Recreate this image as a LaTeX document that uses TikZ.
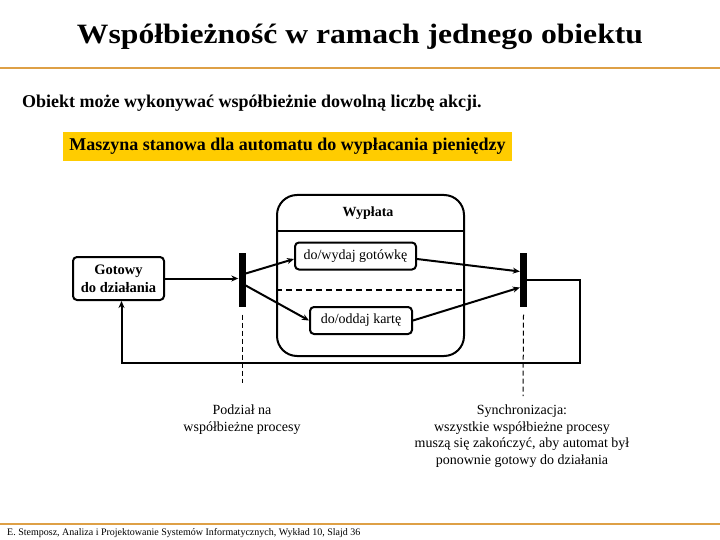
\documentclass[tikz,border=0pt]{standalone}
\usepackage{fontspec}
\usepackage{graphicx}
\setmainfont{Liberation Serif}
\usetikzlibrary{arrows.meta, positioning}
\definecolor{rulecol}{RGB}{222,160,70}
\definecolor{bannercol}{RGB}{255,204,0}
\tikzset{>={Stealth[length=7pt,width=6pt]}, % filled arrow heads
flow/.style={->, line width=2pt}, % transitions
statebox/.style={draw, line width=2pt, rounded corners=4pt, inner sep=0pt}, % simple states
bar/.style={fill=black, minimum width=7pt, minimum height=54pt, inner sep=0pt}, % fork and join
notetext/.style={align=center, font=\fontsize{14}{16.5}\selectfont}, % comments under the bars
noteline/.style={line width=1pt, dash pattern=on 5pt off 3pt},
}

\begin{document}
\begin{tikzpicture}[x=1pt,y=-1pt]
  \useasboundingbox (0,0) rectangle (720,540);

  % heading
  \node (title) at (360,37) {\scalebox{1.13}[1]{\fontsize{28}{32}\selectfont\bfseries Współbieżność w ramach jednego obiektu}};
  \draw[rulecol, line width=1.2pt] (0,68) -- (720,68);
  \node[anchor=west, inner sep=0pt] (intro) at (22,103) {\fontsize{18}{20}\selectfont\bfseries Obiekt może wykonywać współbieżnie dowolną liczbę akcji.};
  \node[fill=bannercol, minimum width=449pt, minimum height=29pt, inner sep=0pt] (banner) at (287.5,146.5) {\fontsize{18}{20}\selectfont\bfseries Maszyna stanowa dla automatu do wypłacania pieniędzy};

  % composite state
  \node[draw, line width=2pt, rounded corners=20pt, minimum width=187pt, minimum height=161pt] (wyplata) at (370.5,275.5) {};
  \node (wyplatatitle) at (368,213) {\fontsize{14}{16}\selectfont\bfseries Wypłata};
  \draw[line width=2pt] (wyplata.west |- 0,231) -- (wyplata.east |- 0,231);
  \draw[line width=2pt, dash pattern=on 6pt off 4pt] (wyplata.west |- 0,290) -- (wyplata.east |- 0,290);

  \node[statebox, minimum width=121pt, minimum height=27pt] (wydaj) at (355.5,256) {\fontsize{14}{16}\selectfont do/wydaj gotówkę};
  \node[statebox, minimum width=102pt, minimum height=27pt] (oddaj) at (361,320.5) {\fontsize{14}{16}\selectfont do/oddaj kartę};
  \node[statebox, minimum width=91pt, minimum height=43pt, align=center, font=\fontsize{14.5}{18}\selectfont\bfseries] (gotowy) at (118.5,278.5) {Gotowy\\do działania};

  \node[bar] (fork) at (242,279.5) {};
  \node[bar] (join) at (523.5,279.5) {};

  % transitions
  \draw[flow] (gotowy.east) -- (gotowy.east -| fork.west);
  \draw[flow] ([yshift=6pt]fork.east) -- ([yshift=-3pt]wydaj.west);
  \draw[flow] ([yshift=-6pt]fork.east) -- (oddaj.west);
  \draw[flow] ([yshift=-3pt]wydaj.east) -- ([yshift=8pt]join.west);
  \draw[flow] (oddaj.east) -- ([yshift=-8pt]join.west);
  \coordinate (ret) at (580,363);
  \draw[flow] (join.east) -| (ret) -| ([xshift=3pt]gotowy.south);

  % comments
  \node[notetext] (podzial) at (242,419.5) {Podział na\\współbieżne procesy};
  \node[notetext] (synchro) at (522,436) {Synchronizacja:\\wszystkie współbieżne procesy\\muszą się zakończyć, aby automat był\\ponownie gotowy do działania};
  \coordinate (podzialend) at (242,383);
  \coordinate (synchroend) at (523,396);
  \draw[noteline] ([yshift=-8pt]fork.south) -- (podzialend);
  \draw[noteline] ([yshift=-8pt]join.south) -- (synchroend);

  % footer
  \draw[rulecol, line width=1.2pt] (0,524) -- (720,524);
  \node[anchor=west, inner sep=0pt] (footer) at (7,533) {\fontsize{10}{11}\selectfont E. Stemposz, Analiza i Projektowanie Systemów Informatycznych, Wykład 10, Slajd 36};
\end{tikzpicture}
\end{document}
